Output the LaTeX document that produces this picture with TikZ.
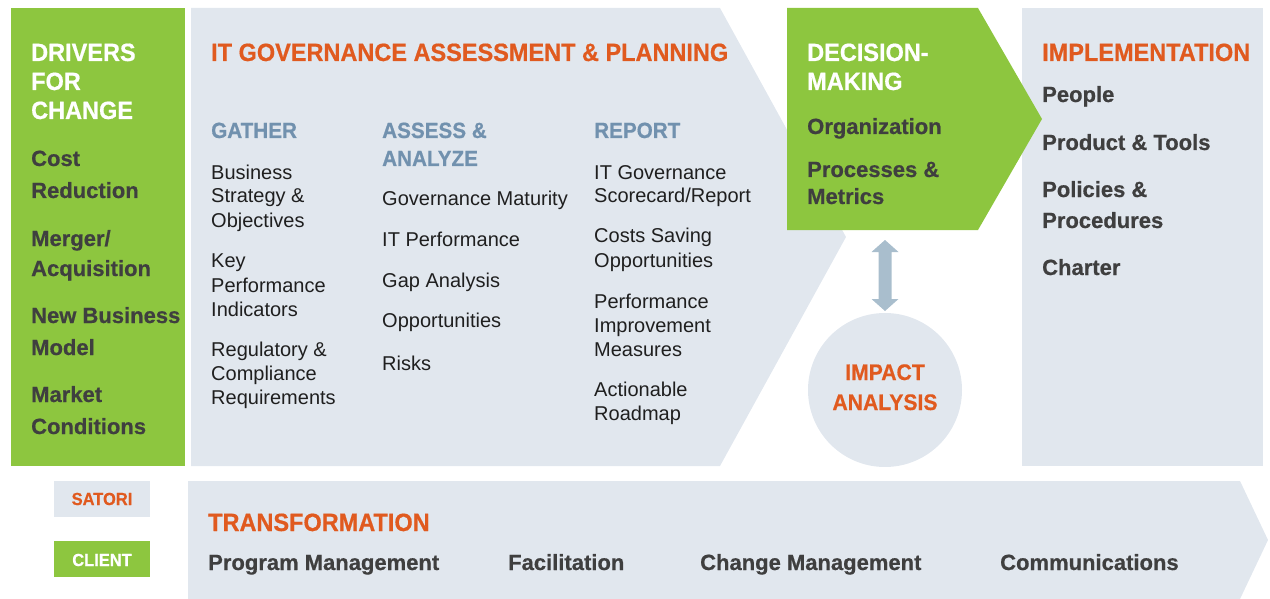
\documentclass[tikz,border=0pt]{standalone}
\usepackage{fontspec}
\setmainfont{Liberation Sans}
\newfontfamily\condfont{Liberation Sans}[FakeStretch=0.94, BoldFeatures={FakeBold=0.6}]
\newfontfamily\itemfont{Liberation Sans}[BoldFeatures={FakeBold=0.6}]
\definecolor{gr}{HTML}{8DC63F}
\definecolor{lg}{HTML}{E1E7EE}
\definecolor{org}{HTML}{E05A1F}
\definecolor{bh}{HTML}{7191AE}
\definecolor{dk}{HTML}{3F3F3F}
\definecolor{arr}{HTML}{A9BECD}
\tikzset{
  body/.style={anchor=base west, inner sep=0pt, text=black!88, font=\fontsize{20}{24}\selectfont},
  item/.style={anchor=base west, inner sep=0pt, text=dk, font=\itemfont\fontsize{22}{26}\selectfont\bfseries},
  otitle/.style={anchor=base west, inner sep=0pt, text=org, font=\condfont\fontsize{25}{29}\selectfont\bfseries},
  wtitle/.style={anchor=base west, inner sep=0pt, text=white, font=\condfont\fontsize{25}{29}\selectfont\bfseries},
  bhead/.style={anchor=base west, inner sep=0pt, text=bh, font=\condfont\fontsize{22}{26}\selectfont\bfseries},
  ohead/.style={anchor=base, inner sep=0pt, text=org, font=\condfont\fontsize{22.5}{26}\selectfont\bfseries},
  legend/.style={inner sep=0pt, font=\condfont\fontsize{17.5}{20}\selectfont\bfseries},
}
\begin{document}
\begin{tikzpicture}[x=1pt,y=-1pt]
\useasboundingbox (0,0) rectangle (1270,599);
% shapes
\fill[gr] (11,8) rectangle (185,466);
\fill[lg] (191,8) -- (720,8) -- (846,237) -- (720,466) -- (191,466) -- cycle;
\fill[lg] (1022,8) rectangle (1263,466);
\fill[gr] (787,8) -- (978,8) -- (1042,119) -- (978,230) -- (787,230) -- cycle;
\node[circle, fill=lg, minimum size=154pt, inner sep=0pt] (impact) at (885,390) {};
\coordinate (dtop) at (885,240);
\coordinate (dbot) at (885,311);
\fill[arr] (dtop) -- ([xshift=13.5pt,yshift=-12pt]dtop) -- ([xshift=6.5pt,yshift=-12pt]dtop)
  -- ([xshift=6.5pt,yshift=12pt]dbot) -- ([xshift=13.5pt,yshift=12pt]dbot) -- (dbot)
  -- ([xshift=-13.5pt,yshift=12pt]dbot) -- ([xshift=-6.5pt,yshift=12pt]dbot)
  -- ([xshift=-6.5pt,yshift=-12pt]dtop) -- ([xshift=-13.5pt,yshift=-12pt]dtop) -- cycle;
\fill[lg] (54,481) rectangle (150,517);
\fill[gr] (54,541) rectangle (150,577);
\fill[lg] (188,481) -- (1240,481) -- (1268,540) -- (1240,599) -- (188,599) -- cycle;

% drivers
\node[wtitle] (d1) at (31,61) {DRIVERS};
\node[wtitle] (d2) at (31,90) {FOR};
\node[wtitle] (d3) at (31,119) {CHANGE};
\node[item] (c1) at (31,166) {Cost};
\node[item] (c2) at (31,198) {Reduction};
\node[item] (c3) at (31,246) {Merger/};
\node[item] (c4) at (31,276) {Acquisition};
\node[item] (c5) at (31,323) {New Business};
\node[item] (c6) at (31,355) {Model};
\node[item] (c7) at (31,402) {Market};
\node[item] (c8) at (31,434) {Conditions};

% IT governance
\node[otitle] (itg) at (211,61) {IT GOVERNANCE ASSESSMENT \& PLANNING};
\node[bhead] (gh) at (211,138) {GATHER};
\node[body] (g1) at (211,179) {Business};
\node[body] (g2) at (211,203) {Strategy \&};
\node[body] (g3) at (211,227) {Objectives};
\node[body] (g4) at (211,267) {Key};
\node[body] (g5) at (211,292) {Performance};
\node[body] (g6) at (211,316) {Indicators};
\node[body] (g7) at (211,356) {Regulatory \&};
\node[body] (g8) at (211,380) {Compliance};
\node[body] (g9) at (211,404) {Requirements};

\node[bhead] (ah1) at (382,138) {ASSESS \&};
\node[bhead] (ah2) at (382,166) {ANALYZE};
\node[body] (a1) at (382,206) {Governance Maturity};
\node[body] (a2) at (382,246) {IT Performance};
\node[body] (a3) at (382,287) {Gap Analysis};
\node[body] (a4) at (382,327) {Opportunities};
\node[body] (a5) at (382,370) {Risks};

\node[bhead] (rh) at (594,138) {REPORT};
\node[body] (r1) at (594,179) {IT Governance};
\node[body] (r2) at (594,203) {Scorecard/Report};
\node[body] (r3) at (594,243) {Costs Saving};
\node[body] (r4) at (594,267) {Opportunities};
\node[body] (r5) at (594,308) {Performance};
\node[body] (r6) at (594,332) {Improvement};
\node[body] (r7) at (594,356) {Measures};
\node[body] (r8) at (594,396) {Actionable};
\node[body] (r9) at (594,420) {Roadmap};

% decision
\node[wtitle] (dm1) at (807,61) {DECISION-};
\node[wtitle] (dm2) at (807,90) {MAKING};
\node[item] (o1) at (807,134) {Organization};
\node[item] (o2) at (807,177) {Processes \&};
\node[item] (o3) at (807,204) {Metrics};

% implementation
\node[otitle] (im) at (1042,61) {IMPLEMENTATION};
\node[item] (i1) at (1042,102) {People};
\node[item] (i2) at (1042,150) {Product \& Tools};
\node[item] (i3) at (1042,197) {Policies \&};
\node[item] (i4) at (1042,228) {Procedures};
\node[item] (i5) at (1042,275) {Charter};

% impact
\node[ohead] (ia1) at (885,380) {IMPACT};
\node[ohead] (ia2) at (885,410) {ANALYSIS};

% legend
\node[legend, text=org] (sat) at (102,499) {SATORI};
\node[legend, text=white] (cli) at (102,560) {CLIENT};

% transformation
\node[otitle] (tr) at (208,531) {TRANSFORMATION};
\node[item] (t1) at (208,570) {Program Management};
\node[item] (t2) at (508,570) {Facilitation};
\node[item] (t3) at (700,570) {Change Management};
\node[item] (t4) at (1000,570) {Communications};
\end{tikzpicture}
\end{document}
